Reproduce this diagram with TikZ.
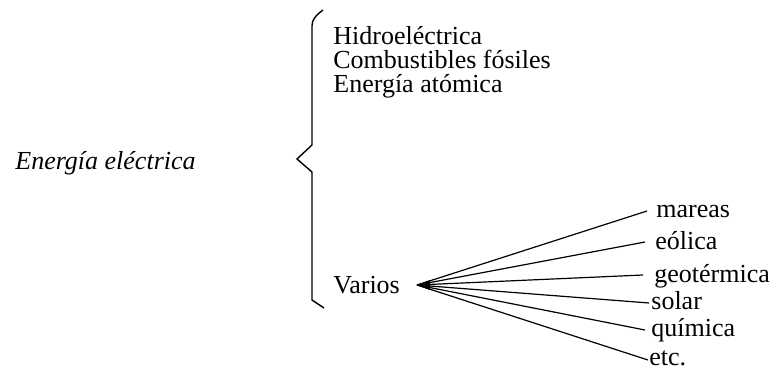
\documentclass[tikz,border=0pt]{standalone}
\usepackage{fontspec}
\setmainfont{Liberation Serif}
\begin{document}
\begin{tikzpicture}[x=0.5pt,y=-0.5pt,
  lbl/.style={anchor=base west,inner sep=0pt,font=\fontsize{13}{15}\selectfont},
  ln/.style={line width=0.6pt},
  brace/.style={line width=0.7pt,line join=miter}]
\useasboundingbox (0,0) rectangle (773,381);
% left title
\node[lbl,font=\fontsize{13}{15}\selectfont\itshape] (title) at (15,169) {Energía eléctrica};
% brace
\coordinate (btop) at (323,10);
\coordinate (btip) at (297,159);
\coordinate (bbot) at (324,308);
\draw[brace] (btop) .. controls (315,16) and (312,20) .. (312,26) -- (312,145) -- (btip) -- (312,172) -- (312,300) -- (bbot);
% items
\node[lbl] (h) at (333,44) {Hidroeléctrica};
\node[lbl] (c) at (333,68) {Combustibles fósiles};
\node[lbl] (a) at (333,92) {Energía atómica};
\node[lbl] (v) at (333,293) {Varios};
% fan
\coordinate (apex) at (417,285);
\node[lbl] (m1) at (656,217) {mareas};
\node[lbl] (m2) at (655,249) {eólica};
\node[lbl] (m3) at (654,282) {geotérmica};
\node[lbl] (m4) at (651,309) {solar};
\node[lbl] (m5) at (651,336) {química};
\node[lbl] (m6) at (649,365) {etc.};
\draw[ln] (apex) -- ([shift={(-9,-6)}]m1.base west);
\draw[ln] (apex) -- ([shift={(-10,-7)}]m2.base west);
\draw[ln] (apex) -- ([shift={(-11,-7)}]m3.base west);
\draw[ln] (apex) -- ([shift={(-2,-6)}]m4.base west);
\draw[ln] (apex) -- ([shift={(-6,-6)}]m5.base west);
\draw[ln] (apex) -- ([shift={(-1,-5)}]m6.base west);
\fill (apex) -- (430,280) -- (430,290) -- cycle;
\end{tikzpicture}
\end{document}
